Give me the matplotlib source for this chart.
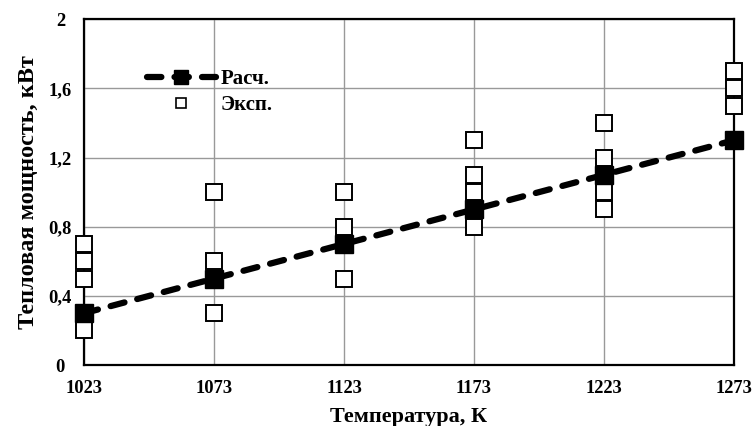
import matplotlib.pyplot as plt
from matplotlib.lines import Line2D
from matplotlib.ticker import FuncFormatter

plt.rcParams['font.family'] = ['Liberation Serif', 'DejaVu Serif']
plt.rcParams['font.weight'] = 'bold'

temps = [1023, 1073, 1123, 1173, 1223, 1273]
calc = [0.3, 0.5, 0.7, 0.9, 1.1, 1.3]

exp_t = [1023, 1023, 1023, 1023,
         1073, 1073, 1073,
         1123, 1123, 1123,
         1173, 1173, 1173, 1173,
         1223, 1223, 1223, 1223, 1223,
         1273, 1273, 1273]
exp_q = [0.2, 0.5, 0.6, 0.7,
         0.3, 0.6, 1.0,
         0.5, 0.8, 1.0,
         0.8, 1.0, 1.1, 1.3,
         0.9, 1.0, 1.1, 1.2, 1.4,
         1.5, 1.6, 1.7]

fig = plt.figure(figsize=(7.53, 4.26), dpi=100)
ax = fig.add_axes([0.1116, 0.143, 0.8632, 0.812])

dash = (0, (2.3, 2.1))
lw = 4.5
ax.plot(exp_t, exp_q, linestyle='none', marker='s', markersize=11.5,
        markerfacecolor='white', markeredgecolor='black', markeredgewidth=1.4,
        clip_on=False, zorder=3)
ax.plot(temps, calc, color='black', linestyle=dash, linewidth=lw,
        dash_capstyle='round', marker='s', markersize=12.5,
        markerfacecolor='black', markeredgecolor='black',
        clip_on=False, zorder=4)

ax.set_xlim(1023, 1273)
ax.set_ylim(0, 2)
ax.set_xticks(temps)
ax.set_yticks([0, 0.4, 0.8, 1.2, 1.6, 2.0])
ax.yaxis.set_major_formatter(FuncFormatter(
    lambda v, p: ('%g' % round(v, 1)).replace('.', ',')))
ax.grid(True, color='#999999', linewidth=1.0)
ax.set_axisbelow(True)
ax.tick_params(length=0, labelsize=13.3)
ax.tick_params(axis='x', pad=11)
ax.tick_params(axis='y', pad=17)
for lab in ax.get_yticklabels():
    lab.set_horizontalalignment('center')
for s in ax.spines.values():
    s.set_linewidth(1.6)
    s.set_color('black')

ax.set_xlabel('Температура, К', fontsize=16, fontweight='bold', labelpad=7)
ax.set_ylabel('Тепловая мощность, кВт', fontsize=17.5, fontweight='bold', labelpad=7)

h_calc = Line2D([], [], color='black', linestyle=dash, linewidth=lw,
                dash_capstyle='round', marker='s', markersize=10,
                markerfacecolor='black')
h_exp = Line2D([], [], linestyle='none', marker='s', markersize=7,
               markerfacecolor='white', markeredgecolor='black', markeredgewidth=1.2)
ax.legend([h_calc, h_exp], ['Расч.', 'Эксп.'], loc='upper left',
          bbox_to_anchor=(0.068, 0.91), frameon=False, handlelength=3.3,
          handletextpad=0.25, labelspacing=0.3, fontsize=15)

fig.savefig('out.png', dpi=100)
